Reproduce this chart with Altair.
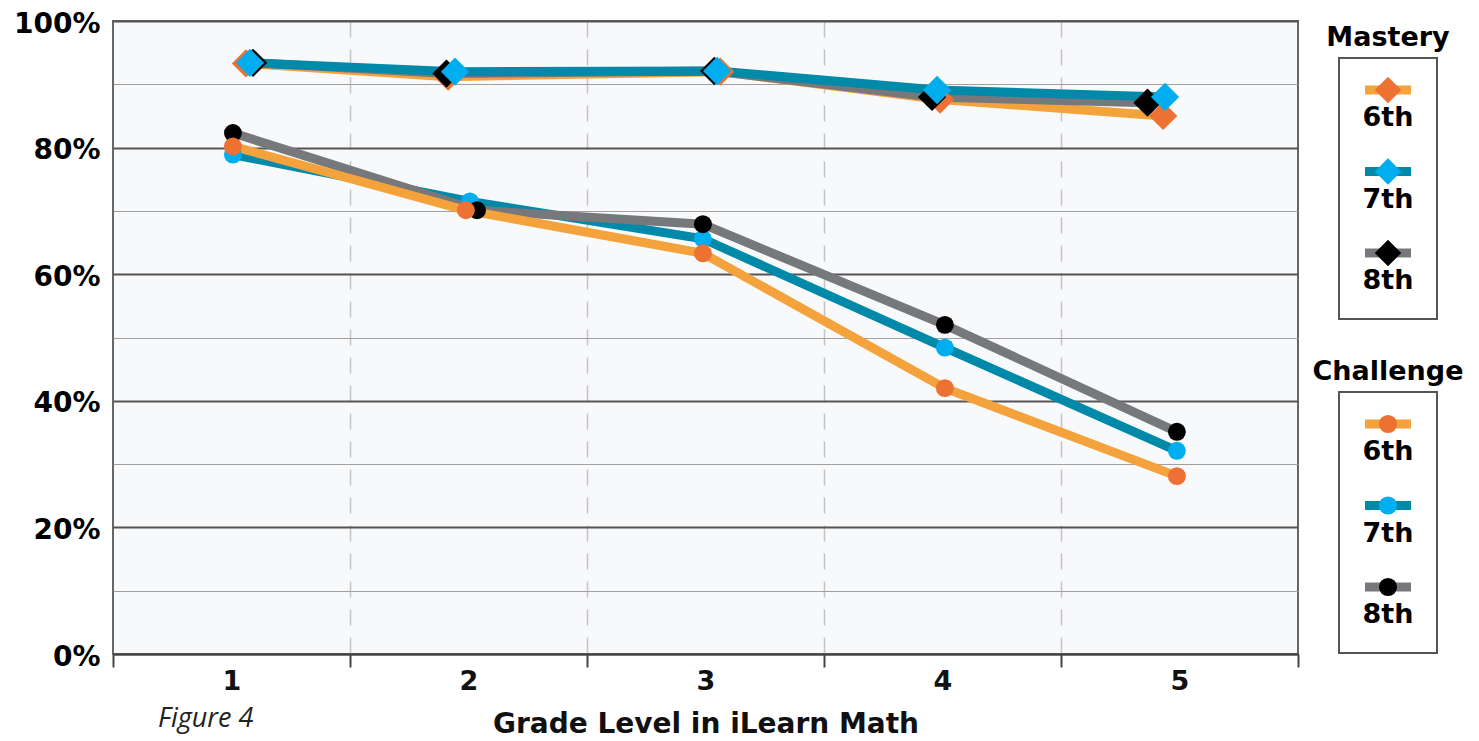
import altair as alt
import pandas as pd

# ---------------- data ----------------
levels = [1, 2, 3, 4, 5]
grades = ["6th", "7th", "8th"]
programs = ["Mastery", "Challenge"]

mastery_6th = [0.933, 0.912, 0.920, 0.876, 0.850]
mastery_7th = [0.934, 0.920, 0.921, 0.891, 0.880]
mastery_8th = [0.934, 0.917, 0.921, 0.880, 0.871]
challenge_6th = [0.802, 0.701, 0.633, 0.420, 0.281]
challenge_7th = [0.789, 0.715, 0.656, 0.484, 0.321]
challenge_8th = [0.823, 0.701, 0.679, 0.520, 0.351]

# where each marker sits along the grade axis (markers are slightly staggered)
mastery_6th_at = [1.061, 1.914, 3.062, 3.990, 4.931]
mastery_7th_at = [1.078, 1.943, 3.049, 3.977, 4.939]
mastery_8th_at = [1.091, 1.907, 3.037, 3.956, 4.865]
challenge_6th_at = [1.006, 1.989, 2.989, 4.010, 4.989]
challenge_7th_at = [1.006, 2.006, 2.989, 4.010, 4.989]
challenge_8th_at = [1.006, 2.036, 2.989, 4.010, 4.989]

series = [
    ("Mastery", "6th", mastery_6th, mastery_6th_at),
    ("Mastery", "7th", mastery_7th, mastery_7th_at),
    ("Mastery", "8th", mastery_8th, mastery_8th_at),
    ("Challenge", "6th", challenge_6th, challenge_6th_at),
    ("Challenge", "7th", challenge_7th, challenge_7th_at),
    ("Challenge", "8th", challenge_8th, challenge_8th_at),
]
rows = []
for prog, grade, vals, xs in series:
    for lvl, v, xp in zip(levels, vals, xs):
        rows.append(dict(program=prog, grade=grade, level=lvl, at=xp, value=v))
df = pd.DataFrame(rows)

# ---------------- styling ----------------
line_colors = ["#F4A23B", "#0089A8", "#77787B"]
marker_colors = ["#ED7133", "#00ADEF", "#000000"]
line_scale = alt.Scale(domain=grades, range=line_colors)
fill_scale = alt.Scale(domain=grades, range=marker_colors)

W, H = 1185, 633
xscale = alt.Scale(domain=[0.5, 5.5], nice=False, zero=False)
yscale = alt.Scale(domain=[0, 1], nice=False, zero=False)

x_axis = alt.Axis(
    values=[0.5 + 0.5 * i for i in range(11)],
    labelExpr="datum.value % 1 == 0 ? format(datum.value, 'd') : ''",
    tickColor={"condition": {"test": "datum.value % 1 == 0", "value": "transparent"}, "value": "#444444"},
    tickSize=13, tickWidth=2,
    domainColor="#444444", domainWidth=2,
    grid=True,
    gridColor={"condition": {"test": "datum.value % 1 != 0 && datum.value > 0.6 && datum.value < 5.4",
                             "value": "#C4C4C4"}, "value": "transparent"},
    gridDash=[16, 12], gridWidth=1.5,
    labelFont="DejaVu Sans", labelFontWeight="bold", labelFontSize=27, labelColor="#111111",
    labelPadding=1, labelOverlap=False, labelFlush=False,
    title="Grade Level in iLearn Math", titleFont="DejaVu Sans", titleFontWeight="bold",
    titleFontSize=28, titleColor="#111111", titlePadding=16,
)
y_axis = alt.Axis(
    values=[i / 10 for i in range(11)],
    labelExpr="round(datum.value * 10) % 2 == 0 ? format(datum.value, '.0%') : ''",
    ticks=False, tickSize=0, domain=False,
    grid=True,
    gridColor={"condition": {"test": "round(datum.value * 10) % 2 == 0", "value": "#555555"}, "value": "#A0A0A0"},
    gridWidth={"condition": {"test": "round(datum.value * 10) % 2 == 0", "value": 2}, "value": 1},
    labelFont="DejaVu Sans", labelFontWeight="bold", labelFontSize=28, labelColor="#000000",
    labelPadding=13, labelOffset=3, labelOverlap=False, labelFlush=False, title=None,
)

X = alt.X("at:Q", scale=xscale, axis=x_axis)
Y = alt.Y("value:Q", scale=yscale, axis=y_axis)


def sel(prog, grade):
    return f"datum.program == '{prog}' && datum.grade == '{grade}'"


line_order = [("Mastery", "6th"), ("Mastery", "8th"), ("Mastery", "7th"),
              ("Challenge", "7th"), ("Challenge", "8th"), ("Challenge", "6th")]
point_order = [("Mastery", "6th"), ("Mastery", "8th"), ("Mastery", "7th"),
               ("Challenge", "7th"), ("Challenge", "8th"), ("Challenge", "6th")]

lines = [
    alt.Chart(df).transform_filter(sel(p, g)).mark_line(strokeWidth=9, strokeCap="butt").encode(
        x=X, y=Y, stroke=alt.Stroke("grade:N", scale=line_scale, legend=None), order="level:Q")
    for p, g in line_order
]
points = [
    alt.Chart(df).transform_filter(sel(p, g)).mark_point(
        filled=True, opacity=1, strokeWidth=0,
        shape="diamond" if p == "Mastery" else "circle",
        size=800 if p == "Mastery" else 320,
    ).encode(x=X, y=Y, fill=alt.Fill("grade:N", scale=fill_scale, legend=None))
    for p, g in point_order
]
main = alt.layer(*lines, *points)

# ---------------- custom legend ----------------
leg_rows, box_rows = [], []
for gi, prog in enumerate(programs):
    base = gi * 334 - 2
    box_rows.append(dict(program=prog, title_y=base + 19, top=base + 39, bottom=base + 300))
    for i, grade in enumerate(grades):
        sy = base + 71 + i * 81.5
        leg_rows.append(dict(program=prog, grade=grade, sym_y=sy, label_y=sy + 28))
leg_df = pd.DataFrame(leg_rows)
box_df = pd.DataFrame(box_rows)

leg_y = alt.Scale(domain=[0, H], reverse=True, nice=False, zero=False)
LX = 1275  # legend centre (plot coordinates)

leg_boxes = alt.Chart(box_df).mark_rect(fill="transparent", stroke="#555555", strokeWidth=2).encode(
    x=alt.value(LX - 49), x2=alt.value(LX + 49),
    y=alt.Y("top:Q", scale=leg_y, axis=None), y2="bottom:Q")
leg_titles = alt.Chart(box_df).mark_text(
    font="DejaVu Sans", fontWeight="bold", fontSize=27, color="#000000", align="center", baseline="middle"
).encode(x=alt.value(LX), y=alt.Y("title_y:Q", scale=leg_y, axis=None), text="program:N")
leg_swatch = alt.Chart(leg_df).mark_rule(strokeWidth=9, strokeCap="butt").encode(
    x=alt.value(LX - 23), x2=alt.value(LX + 23),
    y=alt.Y("sym_y:Q", scale=leg_y, axis=None),
    stroke=alt.Stroke("grade:N", scale=line_scale, legend=None))
leg_diam = alt.Chart(leg_df).transform_filter("datum.program == 'Mastery'").mark_point(
    filled=True, opacity=1, strokeWidth=0, shape="diamond", size=700).encode(
    x=alt.value(LX), y=alt.Y("sym_y:Q", scale=leg_y, axis=None),
    fill=alt.Fill("grade:N", scale=fill_scale, legend=None))
leg_circ = alt.Chart(leg_df).transform_filter("datum.program == 'Challenge'").mark_point(
    filled=True, opacity=1, strokeWidth=0, shape="circle", size=330).encode(
    x=alt.value(LX), y=alt.Y("sym_y:Q", scale=leg_y, axis=None),
    fill=alt.Fill("grade:N", scale=fill_scale, legend=None))
leg_labels = alt.Chart(leg_df).mark_text(
    font="DejaVu Sans", fontWeight="bold", fontSize=27, color="#000000", align="center", baseline="middle"
).encode(x=alt.value(LX), y=alt.Y("label_y:Q", scale=leg_y, axis=None), text="grade:N")
fig_note = alt.Chart(pd.DataFrame({"t": ["Figure 4"]})).mark_text(
    font="Open Sans", fontStyle="italic", fontSize=27, color="#222222", align="left", baseline="alphabetic"
).encode(x=alt.value(45), y=alt.value(706), text="t:N")

legend = alt.layer(leg_boxes, leg_titles, leg_swatch, leg_diam, leg_circ, leg_labels, fig_note)

chart = alt.layer(main, legend).resolve_scale(y="independent").properties(
    width=W, height=H,
    padding={"left": 105, "top": 13, "right": 170, "bottom": 84},
    autosize=alt.AutoSizeParams(type="none"),
    background="white",
).configure_view(fill="#F8F9FB", stroke="#666666", strokeWidth=2)

chart.save("out.html", embed_options={"renderer": "svg", "actions": False})
